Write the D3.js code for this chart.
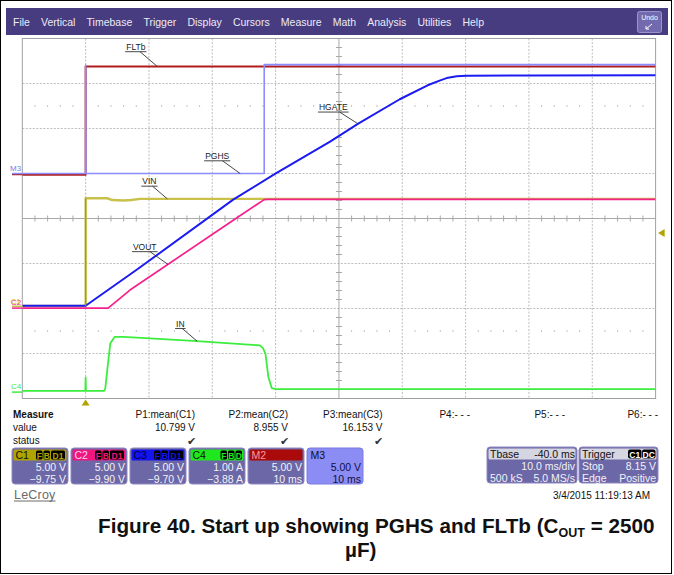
<!DOCTYPE html>
<html>
<head>
<meta charset="utf-8">
<script src="https://cdn.jsdelivr.net/npm/d3@7/dist/d3.min.js"></script>
<style>
  body { margin: 0; background: #fff; }
  svg { display: block; font-family: "Liberation Sans", Arial, sans-serif; }
</style>
</head>
<body>
<svg id="scope" width="674" height="575"></svg>
<script>
// ---------- acquisition data (time in ms, values in V or A) ----------
const menuItems = ["File", "Vertical", "Timebase", "Trigger", "Display", "Cursors",
                   "Measure", "Math", "Analysis", "Utilities", "Help"];
const timeDomain = [-10, 90];          // 10 ms/div, delay -40 ms
const triggerTime = 0;
const triggerLevel = 8.15;             // V on C1

// C1 : VIN
const vinData = [[-10, 0.03], [0, 0.03], [0, 12.0], [3.4, 12.0], [4.2, 11.8], [6.0, 11.75],
                 [7.2, 11.8], [8.6, 11.93], [90, 11.93]];
// C2 : VOUT
const voutData = [[-10, -0.05], [3.55, -0.05], [7.0, 1.95], [23.6, 9.85], [28.2, 12.0],
                  [28.8, 12.02], [90, 12.02]];
// C3 : HGATE
const hgateData = [[-10, 0.0], [0, 0.0], [8.06, 4.0], [23.3, 11.8], [29.9, 14.65], [38.6, 18.25],
                   [43.05, 20.25], [49.6, 22.95], [54.0, 24.5], [56.0, 25.05], [57.0, 25.3],
                   [58.6, 25.5], [60.2, 25.57], [70, 25.6], [90, 25.62]];
// C4 : IN (A)
const inData = [[-10, 0.05], [-0.05, 0.05], [0, 0.35], [0.05, 0.05], [2.9, 0.05], [3.1, 0.1],
                [3.5, 0.62], [3.9, 1.11], [4.6, 1.25], [6, 1.25], [17, 1.16], [27.5, 1.06],
                [28.0, 1.0], [28.4, 0.87], [28.85, 0.36], [29.4, 0.11], [30, 0.09], [90, 0.09]];
// M2 : FLTb
const fltbData = [[-10, -0.15], [0, -0.15], [0, 11.9], [90, 11.9]];
// M3 : PGHS
const pghsData = [[-10, 0.0], [0, 0.0], [0, 12.05], [0.05, 0.0], [28.2, 0.0], [28.2, 12.1], [90, 12.1]];

// vertical settings: volts (amps) per division and offset
const channelNames = ["C1", "C2", "C3", "C4", "M2", "M3"];
const perDiv       = [5, 5, 5, 1, 5, 5];
const offsets      = [-9.75, -9.90, -9.70, -3.88, 5, 5];
const units        = ["V", "V", "V", "A", "V", "V"];

// measurements
const measureNames  = ["P1:mean(C1)", "P2:mean(C2)", "P3:mean(C3)", "P4:- - -", "P5:- - -", "P6:- - -"];
const measureValues = ["10.799 V", "8.955 V", "16.153 V", "", "", ""];
const measureOk     = [true, true, true, false, false, false];

// trace annotations: label, channel index, time the leader points at
const labelText = ["FLTb", "PGHS", "VIN", "HGATE", "VOUT", "IN"];
const labelChan = [4, 5, 0, 2, 1, 3];
const labelTime = [11.3, 24.4, 12.9, 43.0, 13.0, 17.6];

// ---------- layout ----------
const svg = d3.select("#scope");
const PL = 22.3, PR = 655.6, PT = 38.5, PB = 398.5;
const DX = (PR - PL) / 10, DY = (PB - PT) / 8;
const CX = PL + 5 * DX, CY = PT + 4 * DY;

const x = d3.scaleLinear().domain(timeDomain).range([PL, PR]);
const yScales = perDiv.map((p, i) =>
  d3.scaleLinear().domain([-offsets[i] - 4 * p, -offsets[i] + 4 * p]).range([PB, PT]));

// value of a piecewise-linear trace at time t (steps keep the later point)
function valueAt(data, t) {
  let i = 0;
  for (let k = 0; k < data.length - 1; k++) if (data[k][0] <= t) i = k;
  const a = data[i], b = data[i + 1];
  if (b[0] === a[0]) return b[1];
  return a[1] + (b[1] - a[1]) * (t - a[0]) / (b[0] - a[0]);
}

// outer frame
svg.append("rect").attr("x", 0.5).attr("y", 0.5).attr("width", 671).attr("height", 573)
  .attr("fill", "#fff").attr("stroke", "#000");

// ---------- menu bar ----------
svg.append("rect").attr("x", 6).attr("y", 8).attr("width", 662).attr("height", 27).attr("fill", "#473c7f");
const menuG = svg.append("g").attr("font-size", 10.5).attr("fill", "#ecebf5");
const menuTexts = menuG.selectAll("text").data(menuItems).join("text")
  .attr("y", 25.5).text(d => d);
const widths = [];
menuTexts.each(function () { widths.push(this.getComputedTextLength()); });
const totalW = d3.sum(widths);
const gap = (484 - 13 - totalW) / (menuItems.length - 1);
let mx = 13;
menuTexts.attr("x", (d, i) => { const p = mx; mx += widths[i] + gap; return p; });

// undo button
svg.append("rect").attr("x", 637.5).attr("y", 11.5).attr("width", 24).attr("height", 21).attr("rx", 2)
  .attr("fill", "#716aae").attr("stroke", "#9a94cc");
svg.append("text").attr("x", 649.5).attr("y", 20).attr("text-anchor", "middle")
  .attr("font-size", 7).attr("fill", "#fff").text("Undo");
svg.append("path").attr("d", "M646,29 L652,24 M646,29 L646,26 M646,29 L649,29")
  .attr("stroke", "#fff").attr("fill", "none").attr("stroke-width", 1);

// ---------- graticule ----------
const grid = svg.append("g");
for (let i = 1; i < 10; i++) {
  if (i === 5) continue;
  grid.append("line").attr("x1", PL + i * DX).attr("x2", PL + i * DX).attr("y1", PT).attr("y2", PB)
    .attr("stroke", "#bdbdbd").attr("stroke-dasharray", "2,1.5");
}
for (let j = 1; j < 8; j++) {
  if (j === 4) continue;
  grid.append("line").attr("x1", PL).attr("x2", PR).attr("y1", PT + j * DY).attr("y2", PT + j * DY)
    .attr("stroke", "#bdbdbd").attr("stroke-dasharray", "2,1.5");
}
// minor tick dots on half-division rows
[CY - 2.5 * DY, CY + 2.5 * DY].forEach(yy => {
  for (let k = 1; k < 50; k++) {
    if (k % 5 === 0) continue;
    grid.append("line").attr("x1", PL + k * DX / 5).attr("x2", PL + k * DX / 5)
      .attr("y1", yy - 1).attr("y2", yy + 1).attr("stroke", "#c4c4c4");
  }
});
// centre cross with ticks
grid.append("line").attr("x1", PL).attr("x2", PR).attr("y1", CY).attr("y2", CY).attr("stroke", "#a8a8a8");
grid.append("line").attr("x1", CX).attr("x2", CX).attr("y1", PT).attr("y2", PB).attr("stroke", "#a8a8a8");
for (let k = 1; k < 50; k++) {
  if (k % 5 === 0) continue;
  grid.append("line").attr("x1", PL + k * DX / 5).attr("x2", PL + k * DX / 5)
    .attr("y1", CY - 3).attr("y2", CY + 3).attr("stroke", "#a8a8a8");
}
for (let k = 1; k < 40; k++) {
  if (k % 5 === 0) continue;
  grid.append("line").attr("x1", CX - 3).attr("x2", CX + 3)
    .attr("y1", PT + k * DY / 5).attr("y2", PT + k * DY / 5).attr("stroke", "#a8a8a8");
}
grid.append("rect").attr("x", PL).attr("y", PT).attr("width", PR - PL).attr("height", PB - PT)
  .attr("fill", "none").attr("stroke", "#a0a0a0");

// ---------- traces ----------
svg.append("clipPath").attr("id", "plotClip").append("rect")
  .attr("x", PL).attr("y", PT).attr("width", PR - PL).attr("height", PB - PT);
const traces = svg.append("g").attr("clip-path", "url(#plotClip)").attr("fill", "none")
  .attr("stroke-linejoin", "round");

const traceSets = [
  { data: vinData,   ch: 0, color: "#c9c14a", w: 2.4 },
  { data: voutData,  ch: 1, color: "#f5208c", w: 1.7 },
  { data: hgateData, ch: 2, color: "#1c1cf2", w: 2.0 },
  { data: inData,    ch: 3, color: "#3ded3d", w: 1.8 },
  { data: fltbData,  ch: 4, color: "#b01c1c", w: 2.0 },
  { data: pghsData,  ch: 5, color: "#8a8cff", w: 1.6 }
];
traceSets.forEach(s => {
  const line = d3.line().x(d => x(d[0])).y(d => yScales[s.ch](d[1]));
  traces.append("path").attr("d", line(s.data)).attr("stroke", s.color).attr("stroke-width", s.w);
});
// VIN rising edge is drawn darker
traces.append("line").attr("x1", x(0)).attr("x2", x(0))
  .attr("y1", yScales[0](vinData[1][1])).attr("y2", yScales[0](vinData[2][1]))
  .attr("stroke", "#a49c14").attr("stroke-width", 1.2);

// ---------- trace labels ----------
const lbl = svg.append("g").attr("font-size", 8.5).attr("fill", "#222");
const labelOff = [[-31, -16.5], [-35, -14.5], [-25, -14.5], [-39, -13.5], [-35, -14.5], [-21, -14.5]];
labelText.forEach((t, i) => {
  const set = traceSets.find(s => s.ch === labelChan[i]);
  const ex = x(labelTime[i]);
  const ey = yScales[labelChan[i]](valueAt(set.data, labelTime[i]));
  const tx = ex + labelOff[i][0], ty = ey + labelOff[i][1];
  const te = lbl.append("text").attr("x", tx).attr("y", ty).text(t);
  const w = te.node().getComputedTextLength();
  lbl.append("line").attr("x1", tx - 1).attr("x2", tx + w + 1).attr("y1", ty + 1.8).attr("y2", ty + 1.8)
    .attr("stroke", "#333").attr("stroke-width", 0.9);
  lbl.append("line").attr("x1", tx + w * 0.72).attr("y1", ty + 1.8).attr("x2", ex).attr("y2", ey)
    .attr("stroke", "#333").attr("stroke-width", 0.9);
});

// ---------- channel markers ----------
const mk = svg.append("g").attr("font-size", 8);
mk.append("line").attr("x1", 12).attr("x2", PL).attr("y1", yScales[4](0) + 1).attr("y2", yScales[4](0) + 1)
  .attr("stroke", "#b01c1c").attr("stroke-width", 1.5);
mk.append("line").attr("x1", 12).attr("x2", PL).attr("y1", yScales[5](0)).attr("y2", yScales[5](0))
  .attr("stroke", "#8a8cff").attr("stroke-width", 1.5);
mk.append("text").attr("x", 10).attr("y", yScales[5](0) - 3).attr("fill", "#7b7be0").text("M3");
mk.append("line").attr("x1", 12).attr("x2", PL).attr("y1", yScales[0](0)).attr("y2", yScales[0](0))
  .attr("stroke", "#c9c14a").attr("stroke-width", 1.5);
mk.append("line").attr("x1", 12).attr("x2", PL).attr("y1", yScales[1](0) + 0.5).attr("y2", yScales[1](0) + 0.5)
  .attr("stroke", "#f5208c").attr("stroke-width", 1.5);
mk.append("text").attr("x", 11).attr("y", yScales[1](0) - 3).attr("fill", "#f5208c").text("C2");
mk.append("text").attr("x", 10.5).attr("y", yScales[1](0) - 3.5).attr("fill", "#c8b400").attr("opacity", 0.8).text("C1");
mk.append("line").attr("x1", 12).attr("x2", PL).attr("y1", yScales[3](0) - 1).attr("y2", yScales[3](0) - 1)
  .attr("stroke", "#3ded3d").attr("stroke-width", 1.5);
mk.append("text").attr("x", 11).attr("y", yScales[3](0) - 4).attr("fill", "#3ded3d").text("C4");

// trigger level and trigger position markers
const tl = yScales[0](triggerLevel);
svg.append("path").attr("d", `M${PR + 2.5},${tl} L${PR + 9},${tl - 4} L${PR + 9},${tl + 4} Z`).attr("fill", "#b0a400");
const tp = x(triggerTime);
svg.append("path").attr("d", `M${tp},${PB + 1} L${tp - 4},${PB + 7} L${tp + 4},${PB + 7} Z`).attr("fill", "#b0a400");

// ---------- measurement table ----------
const meas = svg.append("g").attr("font-size", 10).attr("fill", "#111");
meas.append("text").attr("x", 13).attr("y", 417.5).attr("font-weight", "bold").text("Measure");
meas.append("text").attr("x", 13).attr("y", 430.5).text("value");
meas.append("text").attr("x", 13).attr("y", 443.5).text("status");
const colRight = [195, 288, 382.5, 470, 565, 658];
measureNames.forEach((n, i) => {
  meas.append("text").attr("x", colRight[i]).attr("y", 417.5).attr("text-anchor", "end").text(n);
  if (measureValues[i]) meas.append("text").attr("x", colRight[i]).attr("y", 430.5)
    .attr("text-anchor", "end").text(measureValues[i]);
  if (measureOk[i]) meas.append("text").attr("x", colRight[i] - 4).attr("y", 444.5)
    .attr("text-anchor", "middle").attr("font-size", 11).attr("fill", "#333").text("\u2714");
});

// ---------- channel badges ----------
const badgeHead = ["#b0a300", "#f0167f", "#1414ee", "#1fe81f", "#aa0a0a", "#8b8cf4"];
const badgeHeadText = ["#111", "#ffd6ea", "#00003a", "#111", "#ff9a9a", "#111"];
const badgeFlags = [["F", "B", "D1"], ["F", "B", "D1"], ["F", "B", "D1"], ["F", "B", "D"], [], []];
const fmt = d3.format(".2f");
const bg = svg.append("g").attr("font-size", 10.5);
channelNames.forEach((c, i) => {
  const bx = 12 + i * 59, by = 448, bw = 56, bh = 36;
  const isM3 = i === 5;
  bg.append("rect").attr("x", bx).attr("y", by).attr("width", bw).attr("height", bh).attr("rx", 3)
    .attr("fill", isM3 ? "#8b8cf4" : "#6c67a6").attr("stroke", isM3 ? "#7a7be0" : "#8e89c2");
  bg.append("rect").attr("x", bx + 1.5).attr("y", by + 1.5).attr("width", bw - 3).attr("height", 11).attr("rx", 1.5)
    .attr("fill", badgeHead[i]);
  bg.append("text").attr("x", bx + 3.5).attr("y", by + 11).attr("fill", badgeHeadText[i]).text(c);
  // flag boxes
  let fx = bx + bw - 2;
  badgeFlags[i].slice().reverse().forEach(f => {
    const fw = f.length > 1 ? 15 : 7.5;
    fx -= fw;
    bg.append("rect").attr("x", fx).attr("y", by + 2.5).attr("width", fw - 1).attr("height", 9).attr("rx", 1.5).attr("fill", "#000");
    bg.append("text").attr("x", fx + (fw - 1) / 2).attr("y", by + 10.5).attr("text-anchor", "middle")
      .attr("font-size", 8.5).attr("font-weight", "bold").attr("fill", badgeHead[i]).text(f);
  });
  const tcol = isM3 ? "#101040" : "#f2f2f8";
  const line1 = fmt(perDiv[i]) + " " + units[i];
  const line2 = i < 4 ? fmt(offsets[i]) + " " + units[i] : "10 ms";
  bg.append("text").attr("x", bx + bw - 2).attr("y", by + 23).attr("text-anchor", "end").attr("fill", tcol).text(line1);
  bg.append("text").attr("x", bx + bw - 2).attr("y", by + 35).attr("text-anchor", "end").attr("fill", tcol).text(line2);
});

// timebase and trigger badges
function infoBadge(bx, bw, head, rows, headExtra) {
  const by = 447, bh = 36;
  bg.append("rect").attr("x", bx).attr("y", by).attr("width", bw).attr("height", bh).attr("rx", 3)
    .attr("fill", "#6c67a6").attr("stroke", "#8e89c2");
  bg.append("rect").attr("x", bx + 1.5).attr("y", by + 1.5).attr("width", bw - 3).attr("height", 11).attr("rx", 1.5)
    .attr("fill", "#d6d5e2");
  bg.append("text").attr("x", bx + 3).attr("y", by + 11).attr("fill", "#111").text(head);
  headExtra(bx, by, bw);
  rows.forEach((r, k) => {
    if (r[0]) bg.append("text").attr("x", bx + 3).attr("y", by + 23 + k * 12).attr("fill", "#f2f2f8").text(r[0]);
    if (r[1]) bg.append("text").attr("x", bx + bw - 2).attr("y", by + 23 + k * 12).attr("text-anchor", "end")
      .attr("fill", "#f2f2f8").text(r[1]);
  });
}
infoBadge(487, 90, "Tbase", [["", "10.0 ms/div"], ["500 kS", "5.0 MS/s"]], (bx, by, bw) => {
  bg.append("text").attr("x", bx + bw - 2).attr("y", by + 11).attr("text-anchor", "end").attr("fill", "#111").text("-40.0 ms");
});
infoBadge(579, 79, "Trigger", [["Stop", "8.15 V"], ["Edge", "Positive"]], (bx, by, bw) => {
  [["C1", bx + bw - 30], ["DC", bx + bw - 16]].forEach(([t, fx]) => {
    bg.append("rect").attr("x", fx).attr("y", by + 2.5).attr("width", 13.5).attr("height", 9).attr("rx", 2).attr("fill", "#000");
    bg.append("text").attr("x", fx + 6.75).attr("y", by + 10.5).attr("text-anchor", "middle")
      .attr("font-size", 8.5).attr("font-weight", "bold").attr("fill", "#fff").text(t);
  });
});

svg.append("text").attr("x", 650).attr("y", 498.5).attr("text-anchor", "end").attr("font-size", 10)
  .attr("fill", "#111").text("3/4/2015 11:19:13 AM");

// logo
const logo = svg.append("text").attr("x", 14).attr("y", 498.5).attr("font-size", 12.5)
  .attr("fill", "#6a6a6a").attr("letter-spacing", 0.2).text("LeCroy");
const lw = logo.node().getComputedTextLength();
svg.append("line").attr("x1", 14).attr("x2", 14 + lw).attr("y1", 501).attr("y2", 501).attr("stroke", "#6a6a6a");

// ---------- caption ----------
const cap = svg.append("text").attr("x", 98).attr("y", 533).attr("font-weight", "bold")
  .attr("font-size", 18).attr("fill", "#111");
cap.append("tspan").text("Figure 40. Start up showing PGHS and FLTb (C");
cap.append("tspan").attr("font-size", 12.5).attr("dy", 4).text("OUT");
cap.append("tspan").attr("dy", -4).text(" = 2500");
const cw = cap.node().getComputedTextLength();
cap.attr("font-size", 18 * 561 / cw);
svg.append("text").attr("x", 345).attr("y", 557).attr("font-weight", "bold")
  .attr("font-size", 18 * 561 / cw).attr("fill", "#111").text("\u00b5F)");
</script>
</body>
</html>
